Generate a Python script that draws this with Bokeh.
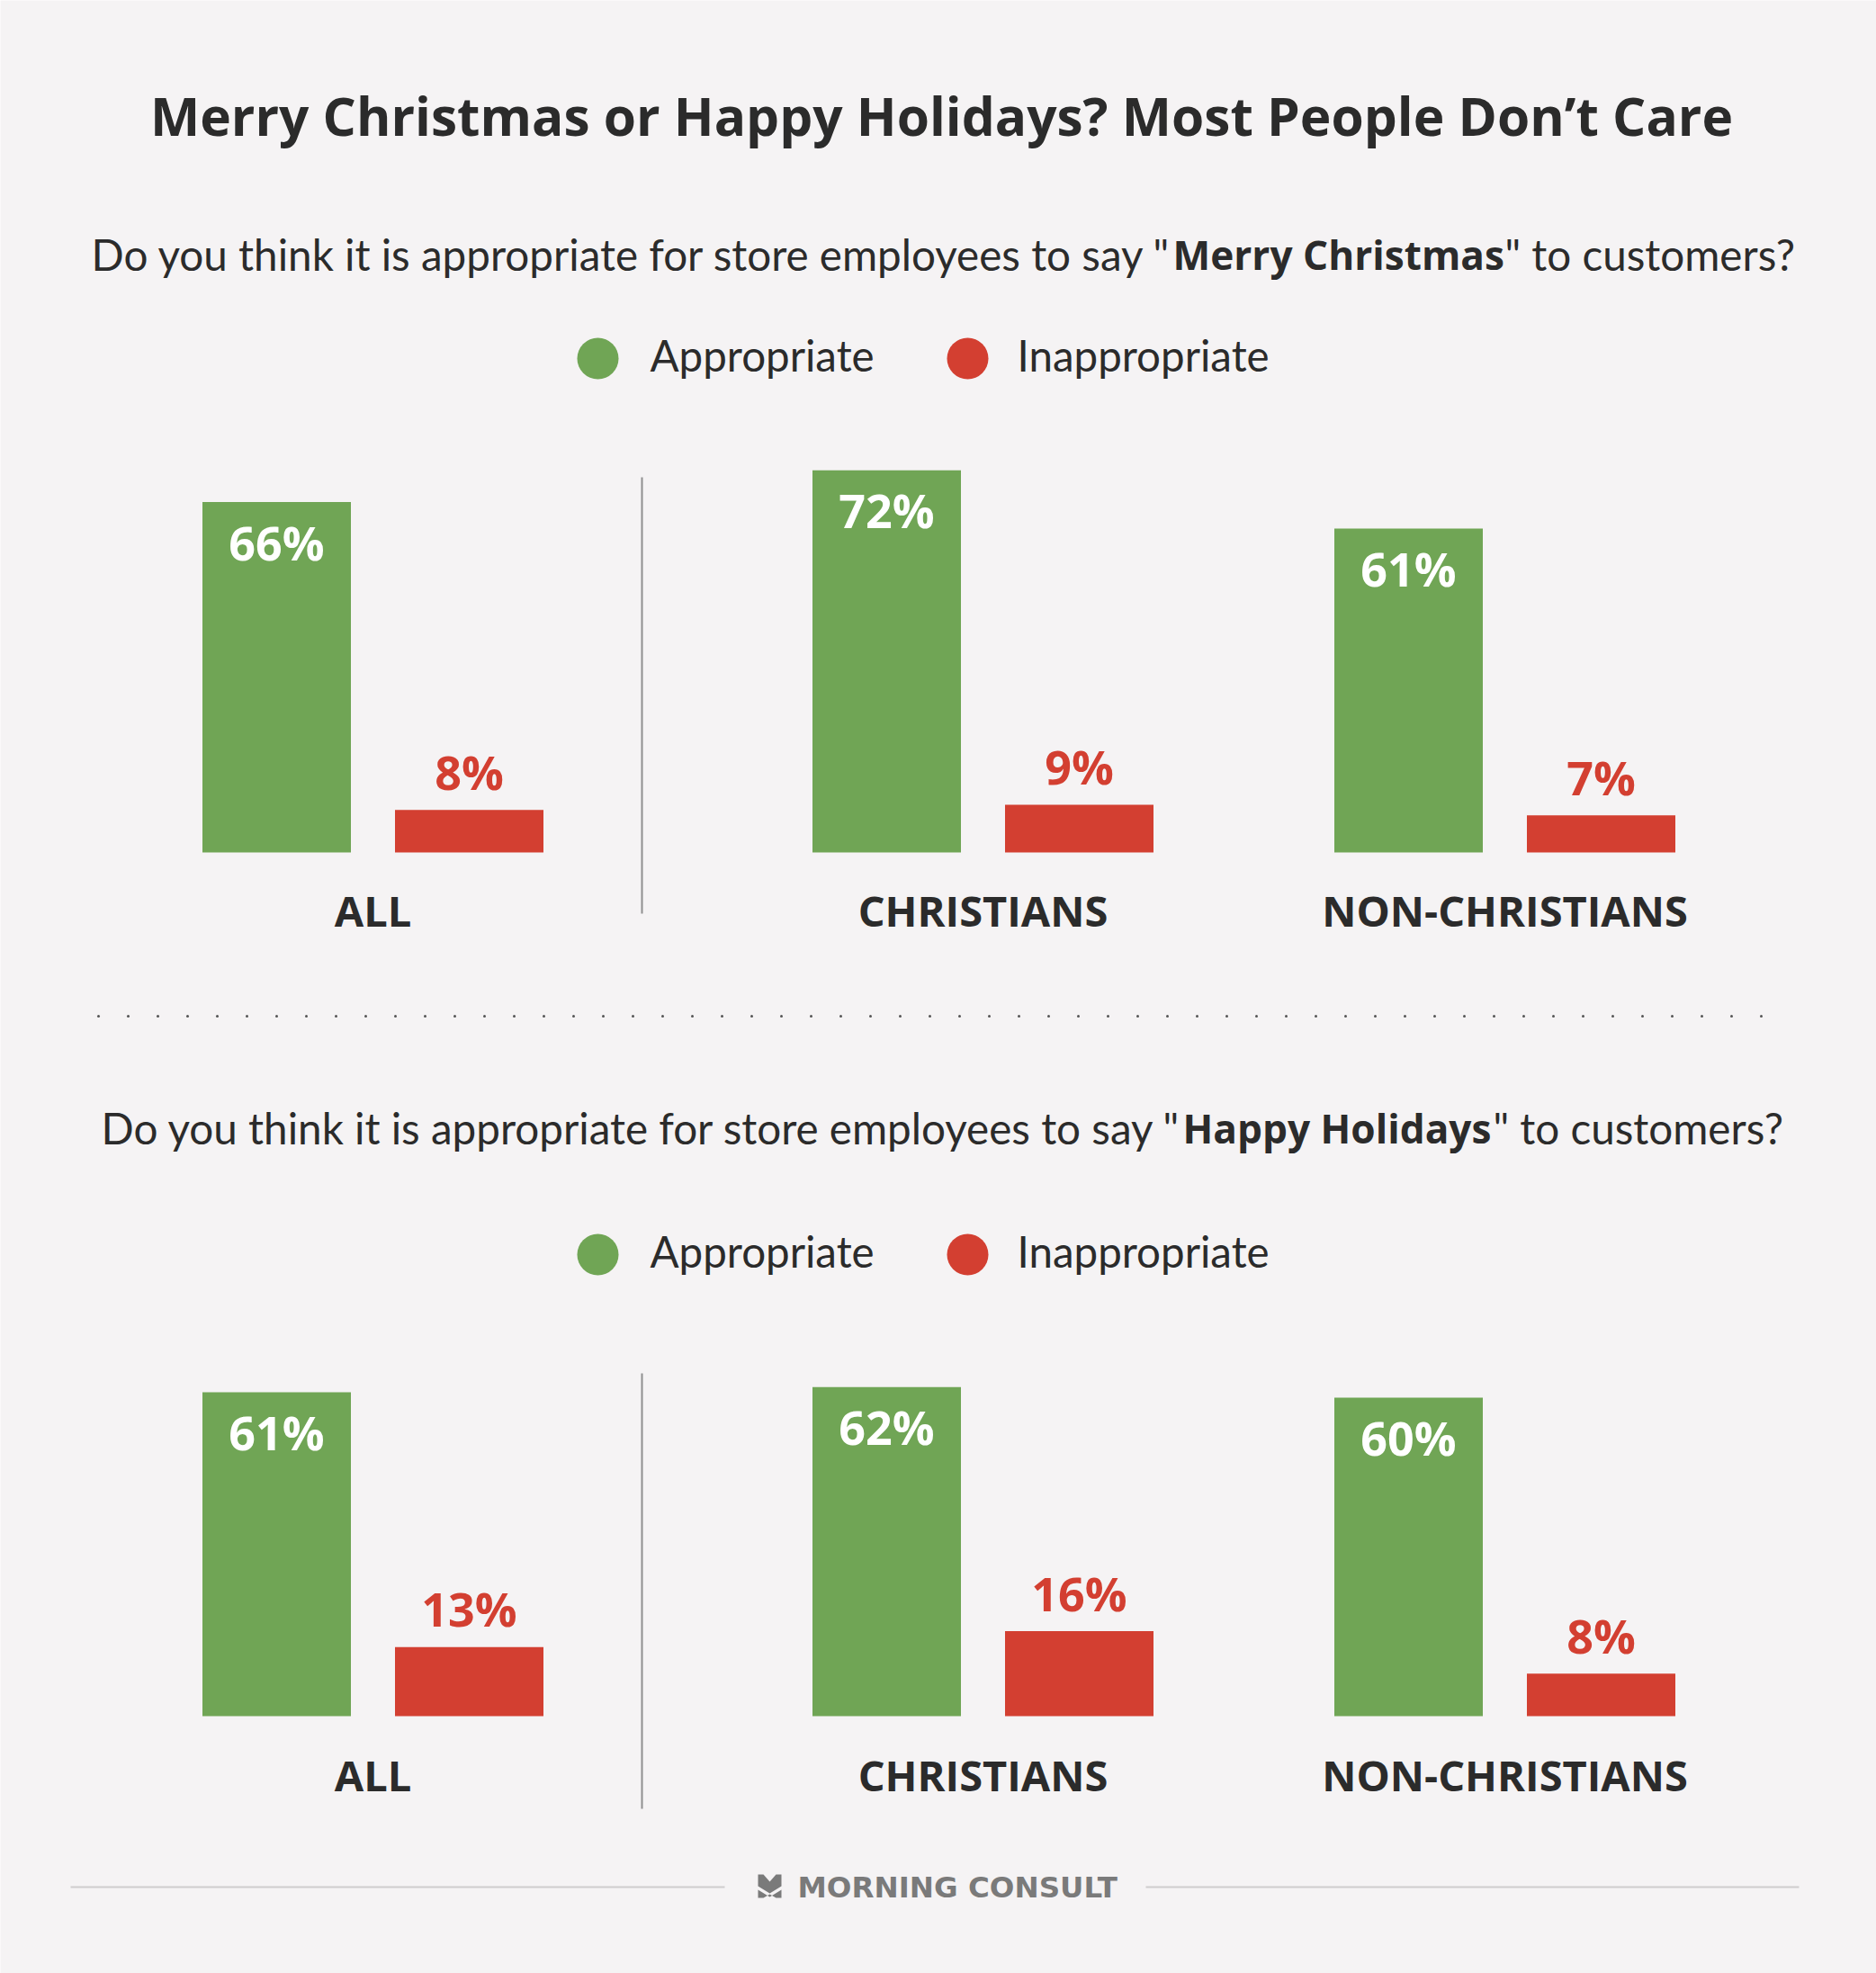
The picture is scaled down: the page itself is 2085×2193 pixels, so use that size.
from bokeh.plotting import figure
from bokeh.models import Range1d
from bokeh.core.properties import value
from bokeh.embed import file_html
from bokeh.resources import INLINE

# ---------------- data ----------------
TITLE = "Merry Christmas or Happy Holidays? Most People Don\u2019t Care"
Q_PREFIX = "Do you think it is appropriate for store employees to say \""
Q_BOLD = ["Merry Christmas", "Happy Holidays"]
Q_SUFFIX = "\" to customers?"
SERIES = ["Appropriate", "Inappropriate"]
GROUPS = ["ALL", "CHRISTIANS", "NON-CHRISTIANS"]
MERRY_APPROPRIATE = [66, 72, 61]
MERRY_INAPPROPRIATE = [8, 9, 7]
HOLIDAYS_APPROPRIATE = [61, 62, 60]
HOLIDAYS_INAPPROPRIATE = [13, 16, 8]
SOURCE = "MORNING CONSULT"

# ---------------- style / layout ----------------
BG = "#f5f3f4"
GREEN = "#70a555"
RED = "#d33f31"
DARK = "#2b2b2b"
GREY = "#7a7a7a"
REG = value("Lato")
BOLD = value("Open Sans")

W, H = 2085, 2193
PX_PER_PCT = 5.9

p = figure(width=W, height=H, x_range=Range1d(0, W), y_range=Range1d(H, 0),
           x_axis_type=None, y_axis_type=None, output_backend="svg", toolbar_location=None,
           min_border=0, background_fill_color=BG, border_fill_color=BG, outline_line_color=None)
p.grid.visible = False

# title (y = cap centre)
p.text(x=[1046], y=[127], text=[TITLE], text_align="center", text_baseline="alphabetic",
       text_font=BOLD, text_font_style="bold", text_font_size="58.6px", text_color=DARK)

sections = [
    dict(q_y=282, bold_l=1303, bold_r=1669, leg_y=398, leg_txt_y=394,
         div_top=530, div_bot=1015, base=947, cat_y=1011,
         app=MERRY_APPROPRIATE, inapp=MERRY_INAPPROPRIATE),
    dict(q_y=1253, bold_l=1314, bold_r=1656, leg_y=1394, leg_txt_y=1390,
         div_top=1526, div_bot=2010, base=1907, cat_y=1972,
         app=HOLIDAYS_APPROPRIATE, inapp=HOLIDAYS_INAPPROPRIATE),
]

centers = [414, 1092, 1672]
bar_off = 107
bar_w = 165
leg_dot_x = [664, 1075]
leg_txt_x = [722, 1130]

for i, s in enumerate(sections):
    # question text in three parts
    p.text(x=[s["bold_l"] - 1], y=[s["q_y"]], text=[Q_PREFIX], text_align="right",
           text_baseline="alphabetic", text_font=REG, text_font_size="47.6px", text_color=DARK)
    p.text(x=[s["bold_l"]], y=[s["q_y"]], text=[Q_BOLD[i]], text_align="left",
           text_baseline="alphabetic", text_font=BOLD, text_font_style="bold",
           text_font_size="44.2px", text_color=DARK)
    p.text(x=[s["bold_r"] + 3], y=[s["q_y"]], text=[Q_SUFFIX], text_align="left",
           text_baseline="alphabetic", text_font=REG, text_font_size="47.6px", text_color=DARK)

    # legend
    p.scatter(x=leg_dot_x, y=[s["leg_y"]] * 2, size=46, marker="circle",
              fill_color=[GREEN, RED], line_color=None)
    p.text(x=leg_txt_x, y=[s["leg_txt_y"]] * 2, text=SERIES, text_align="left",
           text_baseline="alphabetic", text_font=REG, text_font_size="47.5px", text_color=DARK)

    # divider
    p.segment(x0=[713], y0=[s["div_top"]], x1=[713], y1=[s["div_bot"]],
              line_color="#8f8f8f", line_width=2)

    # bars on a percent scale
    name = f"pct{i}"
    p.extra_y_ranges[name] = Range1d(start=-(H - s["base"]) / PX_PER_PCT,
                                     end=s["base"] / PX_PER_PCT)
    gx = [c - bar_off for c in centers]
    rx = [c + bar_off for c in centers]
    p.vbar(x=gx, width=bar_w, bottom=0, top=s["app"], y_range_name=name,
           fill_color=GREEN, line_color=None)
    p.vbar(x=rx, width=bar_w, bottom=0, top=s["inapp"], y_range_name=name,
           fill_color=RED, line_color=None)
    p.text(x=gx, y=s["app"], text=[f"{v}%" for v in s["app"]], y_range_name=name,
           y_offset=44, text_align="center", text_baseline="alphabetic", text_font=BOLD,
           text_font_style="bold", text_font_size="52px", text_color="white")
    p.text(x=rx, y=s["inapp"], text=[f"{v}%" for v in s["inapp"]], y_range_name=name,
           y_offset=-43, text_align="center", text_baseline="alphabetic", text_font=BOLD,
           text_font_style="bold", text_font_size="52px", text_color=RED)

    # category labels
    p.text(x=centers, y=[s["cat_y"]] * 3, text=GROUPS, text_align="center",
           text_baseline="alphabetic", text_font=BOLD, text_font_style="bold",
           text_font_size="47px", text_color=DARK)

# dotted separator
dot_x = list(range(109, 1962, 33))
p.scatter(x=dot_x, y=[1129] * len(dot_x), size=3, marker="circle",
          fill_color="#555555", line_color=None)

# footer
p.segment(x0=[78, 1273], y0=[2097, 2097], x1=[805, 1999], y1=[2097, 2097],
          line_color="#cfcdce", line_width=2)
p.patches(xs=[[842, 848, 855, 862, 868, 868, 855, 842],
              [842, 855, 868, 868, 862, 855, 848, 842]],
          ys=[[2083, 2083, 2091, 2083, 2083, 2096, 2104, 2096],
              [2100, 2108, 2100, 2109, 2109, 2105, 2109, 2109]],
          fill_color=GREY, line_color=None)
p.text(x=[886], y=[2097], text=[SOURCE], text_align="left", text_baseline="alphabetic",
       text_font=value("DejaVu Sans"), text_font_style="bold", text_font_size="32.5px",
       text_color=GREY)

html = file_html(p, INLINE, title="Merry Christmas or Happy Holidays")
open("out.html", "w").write(html)
